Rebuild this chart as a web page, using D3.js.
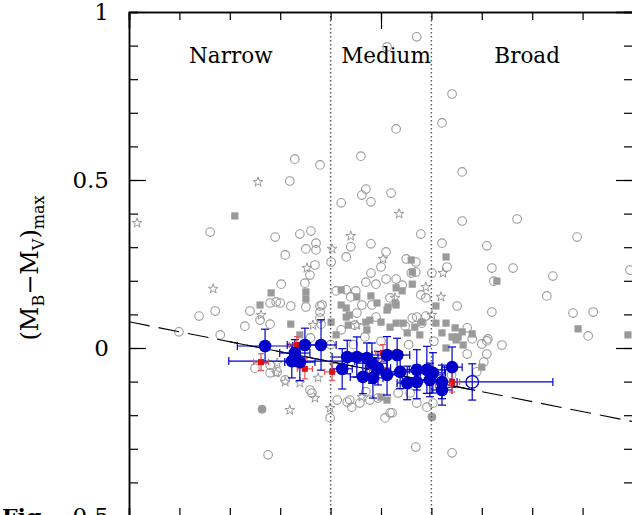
<!DOCTYPE html>
<html>
<head>
<meta charset="utf-8">
<script src="https://cdn.jsdelivr.net/npm/d3@7"></script>
<style>
  html, body { margin: 0; padding: 0; background: #fff; overflow: hidden; }
  svg { display: block; }
</style>
</head>
<body>
<svg id="chart" width="632" height="515"></svg>
<script>
// ---------------- DATA ----------------
const yTickValues = [-0.5, 0, 0.5, 1];
const yTickLabels = ["\u22120.5", "0", "0.5", "1"];
const yMinorTicks = d3.range(-0.5, 1.0001, 0.1).map(v => +v.toFixed(2));
const xMinorTicks = d3.range(0, 10.001, 1);
const xMajorTicks = [0, 5, 10];
const groupBounds = [4, 6];
const groupNames = ["Narrow", "Medium", "Broad"];
const groupCenters = [2.02, 5.1, 7.9];

// fitted relation
const fitX = [0, 10];
const fitY = [0.078, -0.219];
const fitSolidRange = [2.0, 6.87];

// gray open circles [x, y]
const grayCircles = [
 [5.12,0.896],[5.71,0.926],[5.30,0.652],[6.41,0.756],[6.21,0.670],[6.61,0.524],[4.60,0.571],
 [3.29,0.562],[3.79,0.545],[3.19,0.497],[4.21,0.432],[4.62,0.455],[4.70,0.473],[4.80,0.435],
 [5.20,0.461],[6.61,0.378],[7.70,0.384],[1.61,0.345],[2.90,0.330],[3.39,0.339],[3.61,0.348],
 [3.71,0.312],[3.51,0.295],[3.71,0.292],[3.10,0.277],[4.01,0.256],[3.69,0.247],[3.59,0.217],
 [3.49,0.193],[3.02,0.190],[4.40,0.301],[4.31,0.271],[5.79,0.339],[6.21,0.312],[7.10,0.304],
 [4.80,0.310],[5.10,0.286],[5.00,0.241],[5.50,0.265],[5.69,0.256],[6.01,0.223],[6.31,0.241],
 [5.60,0.223],[5.69,0.226],[4.80,0.223],[4.70,0.196],[4.90,0.190],[5.10,0.205],[5.30,0.205],
 [5.42,0.187],[4.11,0.170],[4.31,0.173],[4.50,0.170],[5.79,0.158],[5.89,0.149],[5.18,0.149],
 [7.20,0.238],[7.62,0.238],[7.24,0.199],[8.41,0.214],[8.29,0.155],[8.89,0.330],[8.81,0.104],
 [9.21,0.107],[9.11,0.036],[9.94,0.232],[7.20,0.107],[6.51,0.125],[6.71,0.060],[6.81,0.027],
 [7.00,0.012],[7.10,0.021],[7.40,0.009],[6.71,-0.018],[7.10,-0.018],[7.04,-0.042],[6.90,-0.071],
 [6.41,-0.312],[5.69,-0.295],[2.76,-0.318],[0.99,0.048],[1.39,0.095],[1.71,0.110],[1.81,0.039],
 [2.30,0.065],[2.40,0.110],[2.60,0.083],[2.80,0.071],[2.92,0.137],[3.00,0.134],[3.21,0.125],
 [3.51,0.122],[3.79,0.125],[3.79,0.107],[3.79,0.089],[3.81,0.071],[2.80,-0.051],[2.80,-0.074],
 [4.21,0.054],[4.40,0.152],[4.52,0.104],[4.48,0.068],[4.90,0.092],[4.62,0.128],[4.82,0.128],
 [4.68,0.033],[5.62,0.089],[5.71,0.092],[5.89,0.095],[5.81,0.074],[5.48,0.065],[7.12,0.027],
 [2.94,-0.071],[3.10,-0.095],[3.63,-0.134],[3.99,-0.208],[4.13,-0.155],[4.38,-0.155],[4.42,-0.176],
 [4.58,-0.164],[4.78,-0.155],[5.08,-0.208],[5.18,-0.193],[5.71,-0.164],[5.91,-0.176],[6.03,-0.164],
 [5.58,-0.134],[3.59,-0.125],[4.33,-0.161],[4.94,-0.149],[5.34,-0.134],[5.22,-0.193],[2.80,0.134],
 [3.83,0.128],[4.00,0.010],[3.60,0.030],[4.45,0.010],[5.00,0.020],[5.55,0.010],[6.05,0.020],
 [5.40,-0.110],[4.70,-0.130],[6.40,-0.080],[2.50,-0.060]
];

// gray filled squares [x, y]
const graySquares = [
 [2.10,0.393],[2.60,0.128],[2.82,0.164],[3.51,0.167],[3.51,0.146],[3.21,0.071],[4.01,0.077],
 [4.21,0.173],[4.21,0.128],[4.31,0.119],[4.31,0.092],[4.35,0.068],[4.52,0.152],[4.11,0.039],
 [3.39,0.039],[5.60,0.262],[5.62,0.226],[6.29,0.271],[5.62,0.190],[5.30,0.179],[5.42,0.170],
 [4.80,0.155],[5.30,0.128],[6.09,0.125],[5.12,0.113],[5.30,0.074],[6.09,0.074],[6.29,0.074],
 [6.47,0.060],[6.61,0.048],[6.81,0.042],[6.21,0.045],[6.41,0.033],[4.72,0.054],[4.70,0.077],
 [5.00,0.077],[5.18,0.062],[4.92,0.134],[4.37,0.098],[4.78,0.083],[5.44,0.074],[5.67,0.062],
 [5.52,0.045],[5.77,0.039],[6.53,0.033],[6.63,0.009],[6.29,0.000],[6.49,0.024],[7.00,-0.057],
 [7.30,0.199],[8.91,0.057],[9.90,0.039],[5.00,-0.146],[5.12,-0.155],[5.14,0.122],[5.28,0.134],
 [5.81,0.077]
];

// gray filled small circles [x, y]
const grayDots = [[6.01,-0.205],[2.64,-0.182]];

// gray open stars [x, y]
const grayStars = [
 [0.16,0.372],[2.56,0.494],[1.67,0.176],[2.62,0.098],[3.53,0.238],[4.03,0.295],[4.40,0.333],
 [5.36,0.399],[5.04,0.265],[5.89,0.181],[6.23,0.223],[6.19,0.152],[6.01,0.098],[3.65,0.068],
 [4.52,0.068],[5.28,0.149],[2.94,-0.045],[3.10,-0.101],[3.39,-0.104],[3.75,-0.089],[3.69,-0.149],
 [4.62,-0.146],[3.19,-0.185],[3.99,-0.179],[2.92,-0.074]
];

// blue filled points with errors
const blueX    = [2.70,3.23,3.39,3.29,3.49,3.81,4.23,4.33,4.52,4.72,4.64,4.82,4.84,5.12,5.32,5.12,4.94,5.52,5.71,5.71,5.91,5.97,6.03,6.21,6.21,6.41,5.38];
const blueY    = [0.006,-0.039,-0.042,-0.015,0.009,0.009,-0.062,-0.027,-0.027,-0.030,-0.086,-0.045,-0.089,-0.021,-0.021,-0.080,-0.060,-0.104,-0.065,-0.101,-0.065,-0.095,-0.074,-0.101,-0.125,-0.057,-0.071];
const blueXErr = [0.55,1.25,0.30,0.30,0.35,0.30,0.20,0.30,0.25,0.30,0.25,0.30,0.20,0.30,0.25,0.30,0.25,0.20,0.30,0.25,0.35,0.30,0.25,0.30,0.20,0.20,0.30];
const blueYErr = [0.050,0.050,0.055,0.040,0.050,0.075,0.060,0.050,0.060,0.045,0.050,0.060,0.060,0.055,0.050,0.060,0.050,0.050,0.060,0.050,0.070,0.050,0.060,0.050,0.045,0.060,0.050];

// blue open point with asymmetric x error
const openX = [6.81], openY = [-0.101], openXErrLo = [0.42], openXErrHi = [1.60], openYErr = [0.054];

// red points
const redX = [2.62,3.33,3.49,4.03,5.04,4.92,6.41,6.23];
const redY = [-0.042,0.009,-0.062,-0.071,-0.015,-0.065,-0.101,-0.110];
const redErrX = [0.15,0.15,0.15,0.15,0.15,0.15,0.15,0.15];
const redErrY = [0.025,0.025,0.03,0.025,0.025,0.03,0.03,0.025];

// ---------------- LAYOUT ----------------
const L = 129, R = 633, T = 12, B = 516;
const x = d3.scaleLinear().domain([0, 10]).range([L, R]);
const y = d3.scaleLinear().domain([-0.5, 1]).range([B, T]);
const svg = d3.select("#chart");

svg.append("defs").append("clipPath").attr("id", "clip")
  .append("rect").attr("x", L).attr("y", T).attr("width", R - L).attr("height", B - T);
const plot = svg.append("g").attr("clip-path", "url(#clip)");

const GRAY = "#9a9a9a";

// gray circles
plot.append("g").selectAll("circle").data(grayCircles).join("circle")
  .attr("cx", d => x(d[0])).attr("cy", d => y(d[1])).attr("r", 4.3)
  .attr("fill", "none").attr("stroke", GRAY).attr("stroke-width", 1.1);

// gray squares
plot.append("g").selectAll("rect").data(graySquares).join("rect")
  .attr("x", d => x(d[0]) - 3.6).attr("y", d => y(d[1]) - 3.6)
  .attr("width", 7.2).attr("height", 7.2).attr("fill", GRAY);

// gray dots
plot.append("g").selectAll("circle").data(grayDots).join("circle")
  .attr("cx", d => x(d[0])).attr("cy", d => y(d[1])).attr("r", 4)
  .attr("fill", GRAY).attr("stroke", GRAY);

// gray stars
const starPath = d3.symbol(d3.symbolStar).size(30)();
plot.append("g").selectAll("path").data(grayStars).join("path")
  .attr("d", starPath)
  .attr("transform", d => `translate(${x(d[0])},${y(d[1])})`)
  .attr("fill", "none").attr("stroke", GRAY).attr("stroke-width", 1);

// dotted group boundaries
plot.append("g").selectAll("line").data(groupBounds).join("line")
  .attr("x1", d => x(d)).attr("x2", d => x(d)).attr("y1", T).attr("y2", B)
  .attr("stroke", "#555").attr("stroke-width", 1.4).attr("stroke-dasharray", "1.5,2.5");

// fit line
const fit = d3.scaleLinear().domain(fitX).range(fitY);
plot.append("line")
  .attr("x1", x(fitX[0])).attr("y1", y(fitY[0]))
  .attr("x2", x(fitX[1])).attr("y2", y(fitY[1]))
  .attr("stroke", "#000").attr("stroke-width", 1.1).attr("stroke-dasharray", "21,9");
plot.append("line")
  .attr("x1", x(fitSolidRange[0])).attr("y1", y(fit(fitSolidRange[0])))
  .attr("x2", x(fitSolidRange[1])).attr("y2", y(fit(fitSolidRange[1])))
  .attr("stroke", "#000").attr("stroke-width", 1.1);

// error bar helper
function errBar(g, x1, y1, x2, y2, cap, horiz, color, w) {
  g.append("line").attr("x1", x1).attr("y1", y1).attr("x2", x2).attr("y2", y2)
    .attr("stroke", color).attr("stroke-width", w);
  if (horiz) {
    [x1, x2].forEach(xx => g.append("line").attr("x1", xx).attr("x2", xx)
      .attr("y1", y1 - cap).attr("y2", y1 + cap).attr("stroke", color).attr("stroke-width", w));
  } else {
    [y1, y2].forEach(yy => g.append("line").attr("y1", yy).attr("y2", yy)
      .attr("x1", x1 - cap).attr("x2", x1 + cap).attr("stroke", color).attr("stroke-width", w));
  }
}

const BLUE = "#0000c8";
const gErr = plot.append("g");
blueX.forEach((bx, i) => {
  const cx = x(bx), cy = y(blueY[i]);
  errBar(gErr, x(bx - blueXErr[i]), cy, x(bx + blueXErr[i]), cy, 4, true, BLUE, 1.2);
  errBar(gErr, cx, y(blueY[i] + blueYErr[i]), cx, y(blueY[i] - blueYErr[i]), 4, false, BLUE, 1.2);
});
openX.forEach((ox, i) => {
  const cy = y(openY[i]), cx = x(ox);
  errBar(gErr, x(ox - openXErrLo[i]), cy, x(ox + openXErrHi[i]), cy, 4, true, BLUE, 1.2);
  errBar(gErr, cx, y(openY[i] + openYErr[i]), cx, y(openY[i] - openYErr[i]), 4, false, BLUE, 1.2);
});

// red points
const RED = "#e01010";
const gRed = plot.append("g");
redX.forEach((rx, i) => {
  const cx = x(rx), cy = y(redY[i]);
  errBar(gRed, x(rx - redErrX[i]), cy, x(rx + redErrX[i]), cy, 3, true, "#e85050", 1.2);
  errBar(gRed, cx, y(redY[i] + redErrY[i]), cx, y(redY[i] - redErrY[i]), 3, false, "#e85050", 1.2);
  gRed.append("rect").attr("x", cx - 3).attr("y", cy - 3).attr("width", 6).attr("height", 6)
    .attr("fill", RED);
});

// blue points
plot.append("g").selectAll("circle").data(blueX.map((v, i) => [v, blueY[i]])).join("circle")
  .attr("cx", d => x(d[0])).attr("cy", d => y(d[1])).attr("r", 6.3).attr("fill", BLUE);
plot.append("g").selectAll("circle").data(openX.map((v, i) => [v, openY[i]])).join("circle")
  .attr("cx", d => x(d[0])).attr("cy", d => y(d[1])).attr("r", 6.3)
  .attr("fill", "none").attr("stroke", BLUE).attr("stroke-width", 1.3);

// ---------------- AXES ----------------
const FONT = "'DejaVu Serif', serif";
function styleAxis(g) {
  g.select(".domain").attr("stroke", "#000").attr("stroke-width", 1.5);
  g.selectAll(".tick line").attr("stroke", "#000").attr("stroke-width", 1.2);
}
// left
const leftMinor = svg.append("g").attr("transform", `translate(${L},0)`)
  .call(d3.axisLeft(y).tickValues(yMinorTicks).tickSize(-9).tickFormat(""));
styleAxis(leftMinor);
const leftMajor = svg.append("g").attr("transform", `translate(${L},0)`)
  .call(d3.axisLeft(y).tickValues(yTickValues).tickSizeInner(-17).tickSizeOuter(0).tickPadding(20)
    .tickFormat((d, i) => yTickLabels[i]));
styleAxis(leftMajor);
leftMajor.selectAll(".tick text").attr("font-family", FONT).attr("font-size", 23).attr("fill", "#000");
// right
const rightMinor = svg.append("g").attr("transform", `translate(${R},0)`)
  .call(d3.axisRight(y).tickValues(yMinorTicks).tickSize(-9).tickFormat(""));
styleAxis(rightMinor);
const rightMajor = svg.append("g").attr("transform", `translate(${R},0)`)
  .call(d3.axisRight(y).tickValues(yTickValues).tickSize(-17).tickFormat(""));
styleAxis(rightMajor);
// top
const topMinor = svg.append("g").attr("transform", `translate(0,${T})`)
  .call(d3.axisTop(x).tickValues(xMinorTicks).tickSize(-8).tickFormat(""));
styleAxis(topMinor);
const topMajor = svg.append("g").attr("transform", `translate(0,${T})`)
  .call(d3.axisTop(x).tickValues(xMajorTicks).tickSize(-17).tickFormat(""));
styleAxis(topMajor);
// bottom
const botMinor = svg.append("g").attr("transform", `translate(0,${B})`)
  .call(d3.axisBottom(x).tickValues(xMinorTicks).tickSize(-8).tickFormat(""));
styleAxis(botMinor);

// group labels
svg.append("g").selectAll("text").data(groupNames).join("text")
  .attr("x", (d, i) => x(groupCenters[i])).attr("y", 63)
  .attr("text-anchor", "middle").attr("font-family", FONT).attr("font-size", 21.5)
  .attr("fill", "#000").text(d => d);

// y label
const yl = svg.append("text")
  .attr("transform", "translate(38,268) rotate(-90)")
  .attr("text-anchor", "middle").attr("font-family", FONT).attr("font-size", 24).attr("fill", "#000");
yl.append("tspan").text("(M");
yl.append("tspan").attr("font-size", 16).attr("dy", 6).text("B");
yl.append("tspan").attr("dy", -6).text("\u2212M");
yl.append("tspan").attr("font-size", 16).attr("dy", 6).text("V");
yl.append("tspan").attr("dy", -6).text(")");
yl.append("tspan").attr("font-size", 16).attr("dy", 6).text("max");

// caption fragment at bottom
svg.append("text").attr("x", 2).attr("y", 525).attr("font-family", FONT)
  .attr("font-size", 22).attr("font-weight", "bold").attr("fill", "#000").text("Fig.");
</script>
</body>
</html>
